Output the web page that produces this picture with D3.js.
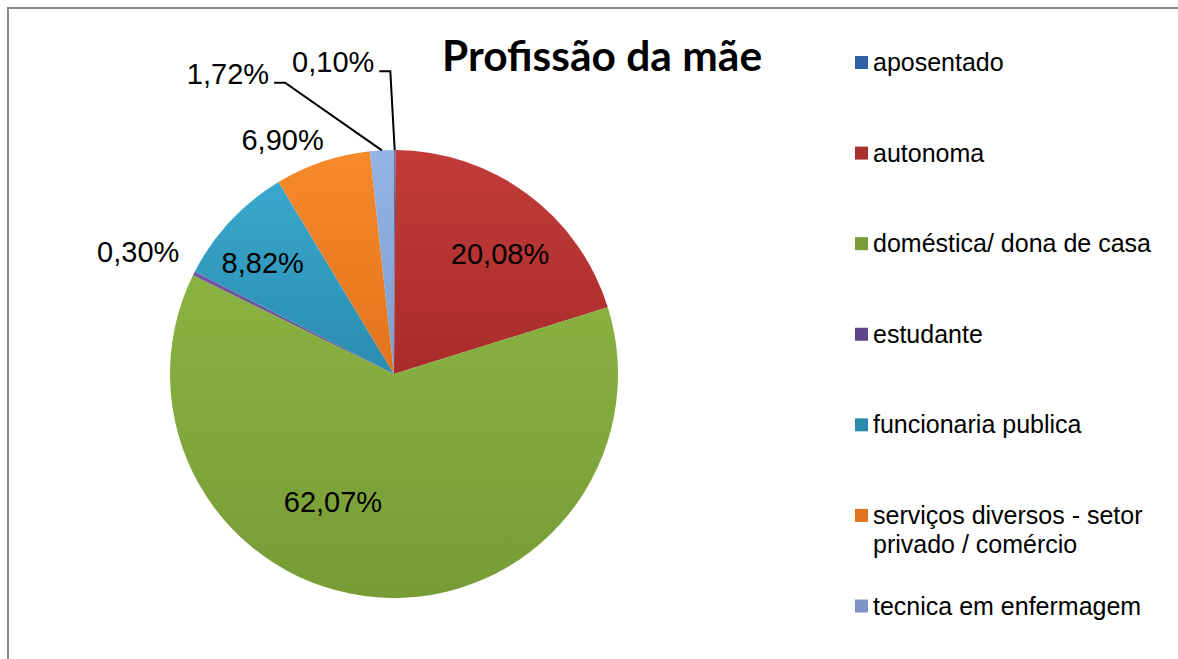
<!DOCTYPE html>
<html>
<head>
<meta charset="utf-8">
<script src="https://cdn.jsdelivr.net/npm/d3@7"></script>
<style>
  body { margin: 0; background: #fff; }
  svg { display: block; }
</style>
</head>
<body>
<svg id="chart"></svg>
<script>
// data
const categories = ["aposentado", "autonoma", "doméstica/ dona de casa", "estudante",
  "funcionaria publica", "serviços diversos - setor privado / comércio", "tecnica em enfermagem"];
const legendLines = [["aposentado"], ["autonoma"], ["doméstica/ dona de casa"], ["estudante"],
  ["funcionaria publica"], ["serviços diversos - setor", "privado / comércio"], ["tecnica em enfermagem"]];
const percents = [0.10, 20.08, 62.07, 0.30, 8.82, 6.90, 1.72];

// colours (pie fill top/bottom, legend swatch)
const sliceTop = ["#4a7fc4", "#c23c38", "#8ab342", "#7558a3", "#39a8cc", "#f58a2a", "#93b4e4"];
const sliceBottom = ["#2f62a6", "#a82c2b", "#789b36", "#5e438a", "#2a8cb0", "#e2731c", "#7d9cd0"];
const swatch = ["#2f62a6", "#a83030", "#7a9b36", "#5e4689", "#2a8caa", "#e0711d", "#7d93c6"];

// label placement: radius factor and angle nudge (degrees)
const labelK = [1.42, 0.715, 0.633, 1.266, 0.768, 1.157, 1.534];
const labelShift = [-11.2, 4.95, 21.1, -1.1, -2.85, -6.85, -25.8];
const hasLeader = [true, false, false, false, false, false, true];

const width = 1178, height = 659;
const cx = 394, cy = 374, radius = 224;

const svg = d3.select("#chart").attr("width", width).attr("height", height);

// frame
svg.append("line").attr("x1", 7).attr("x2", width).attr("y1", 8).attr("y2", 8)
  .attr("stroke", "#8a8a8a").attr("stroke-width", 2);
svg.append("line").attr("x1", 8).attr("x2", 8).attr("y1", 7).attr("y2", height)
  .attr("stroke", "#8a8a8a").attr("stroke-width", 2);

// gradients
const defs = svg.append("defs");
categories.forEach((c, i) => {
  const g = defs.append("linearGradient").attr("id", "grad" + i)
    .attr("x1", 0).attr("y1", 0).attr("x2", 0).attr("y2", 1);
  g.append("stop").attr("offset", "0%").attr("stop-color", sliceTop[i]);
  g.append("stop").attr("offset", "100%").attr("stop-color", sliceBottom[i]);
});

const pie = d3.pie().sort(null).value(d => d);
const arcs = pie(percents);
const arc = d3.arc().innerRadius(0).outerRadius(radius);

const g = svg.append("g").attr("transform", `translate(${cx},${cy})`);

g.selectAll("path.slice")
  .data(arcs)
  .join("path")
  .attr("class", "slice")
  .attr("d", arc)
  .attr("fill", (d, i) => `url(#grad${i})`);

// labels
const fmt = v => d3.format(".2f")(v).replace(".", ",") + "%";
const rad = deg => deg * Math.PI / 180;

arcs.forEach((d, i) => {
  const s = rad(labelShift[i]);
  const kr = labelK[i] * radius;
  const pos = d3.arc().innerRadius(kr).outerRadius(kr)
    .centroid({ startAngle: d.startAngle + s, endAngle: d.endAngle + s });
  const t = g.append("text")
    .attr("x", pos[0]).attr("y", pos[1]).attr("dy", "0.358em")
    .attr("text-anchor", "middle")
    .attr("font-family", "Liberation Sans, Arial, sans-serif")
    .attr("font-size", 29)
    .attr("fill", "#000")
    .text(fmt(percents[i]));
  if (hasLeader[i]) {
    const w = t.node().getComputedTextLength();
    const edge = d3.arc().innerRadius(radius).outerRadius(radius).centroid(d);
    const ly = pos[1] + 9.5;
    const pts = [[pos[0] + w / 2 + 5, ly], [pos[0] + w / 2 + 16, ly], edge];
    g.append("path")
      .attr("d", d3.line()(pts))
      .attr("fill", "none")
      .attr("stroke", "#000")
      .attr("stroke-width", 2);
  }
});

// title
svg.append("text")
  .attr("x", 602).attr("y", 71)
  .attr("text-anchor", "middle")
  .attr("font-family", "Lato, sans-serif")
  .attr("font-weight", "bold")
  .attr("font-size", 42.5)
  .attr("fill", "#000")
  .text("Profissão da mãe");

// legend
const ly = d3.scaleLinear().domain([0, categories.length - 1]).range([62.5, 606]);
const legend = svg.append("g");
categories.forEach((c, i) => {
  const y = ly(i);
  legend.append("rect")
    .attr("x", 855).attr("y", y - 6.5)
    .attr("width", 13).attr("height", 13)
    .attr("fill", swatch[i]);
  const t = legend.append("text")
    .attr("x", 873).attr("y", y + 8.5)
    .attr("font-family", "Liberation Sans, Arial, sans-serif")
    .attr("font-size", 25)
    .attr("fill", "#000");
  legendLines[i].forEach((line, j) => {
    t.append("tspan").attr("x", 873).attr("dy", j === 0 ? 0 : 29).text(line);
  });
});
</script>
</body>
</html>
